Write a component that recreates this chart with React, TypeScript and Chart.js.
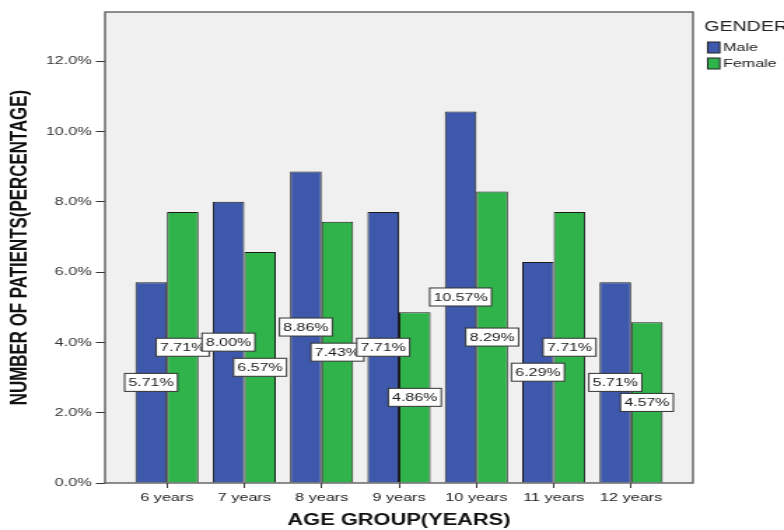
import { useEffect, useRef } from 'react';
import Chart from 'chart.js/auto';
import type { Plugin } from 'chart.js';

// source image is horizontally stretched, so draw narrow and widen with CSS
const PAGE_W = 784;
const PAGE_H = 530;
const STRETCH = 1.4;
const CANVAS_W = Math.round(PAGE_W / STRETCH);

const categories = ['6 years', '7 years', '8 years', '9 years', '10 years', '11 years', '12 years'];
const maleValues = [5.71, 8.0, 8.86, 7.71, 10.57, 6.29, 5.71];
const femaleValues = [7.71, 6.57, 7.43, 4.86, 8.29, 7.71, 4.57];
const seriesNames = ['Male', 'Female'];
const seriesColors = ['#3e58ab', '#2fb34a'];
const yTicks = [0, 2, 4, 6, 8, 10, 12];

const FONT = "'Liberation Sans', Arial, sans-serif";

const plotBackground: Plugin<'bar'> = {
    id: 'plotBackground',
    beforeDraw(chart) {
        const { ctx, chartArea: a } = chart;
        ctx.save();
        ctx.fillStyle = '#f0f0f0';
        ctx.fillRect(a.left, a.top, a.right - a.left, a.bottom - a.top);
        ctx.restore();
    },
    afterDraw(chart) {
        const { ctx, chartArea: a } = chart;
        ctx.save();
        ctx.strokeStyle = '#444';
        ctx.lineWidth = 1.2;
        ctx.strokeRect(a.left, a.top, a.right - a.left, a.bottom - a.top);
        ctx.restore();
    }
};

// white boxed value labels at mid-height of each bar, drawn category by category
const valueLabels: Plugin<'bar'> = {
    id: 'valueLabels',
    afterDatasetsDraw(chart) {
        const { ctx } = chart;
        ctx.save();
        ctx.font = `11.4px ${FONT}`;
        ctx.textAlign = 'center';
        ctx.textBaseline = 'middle';
        categories.forEach((_, i) => {
            chart.data.datasets.forEach((ds, d) => {
                const el = chart.getDatasetMeta(d).data[i] as any;
                if (!el) return;
                const { x, y, base } = el.getProps(['x', 'y', 'base'], true);
                const v = (ds.data[i] as any).y as number;
                const text = v.toFixed(2) + '%';
                const w = ctx.measureText(text).width + 5.5;
                const h = 18;
                const cy = (y + base) / 2;
                ctx.fillStyle = '#ffffff';
                ctx.fillRect(x - w / 2, cy - h / 2, w, h);
                ctx.strokeStyle = '#333';
                ctx.lineWidth = 1;
                ctx.strokeRect(x - w / 2, cy - h / 2, w, h);
                ctx.fillStyle = '#1a1a1a';
                ctx.fillText(text, x, cy + 0.5);
            });
        });
        ctx.restore();
    }
};

const genderLegend: Plugin<'bar'> = {
    id: 'genderLegend',
    afterDraw(chart) {
        const { ctx } = chart;
        ctx.save();
        ctx.textBaseline = 'middle';
        ctx.textAlign = 'left';
        ctx.fillStyle = '#222';
        ctx.font = `14px ${FONT}`;
        ctx.fillText('GENDER', 503, 27);
        ctx.font = `11.5px ${FONT}`;
        chart.data.datasets.forEach((ds, d) => {
            const top = 42 + d * 16;
            ctx.fillStyle = ds.backgroundColor as string;
            ctx.fillRect(505.5, top, 8.6, 11);
            ctx.strokeStyle = '#222';
            ctx.lineWidth = 1;
            ctx.strokeRect(505.5, top, 8.6, 11);
            ctx.fillStyle = '#222';
            ctx.fillText(ds.label as string, 516.4, top + 6);
        });
        ctx.restore();
    }
};

export default function App() {
    const canvasRef = useRef<HTMLCanvasElement>(null);
    const chartRef = useRef<Chart | null>(null);

    useEffect(() => {
        document.body.style.margin = '0';
        if (!canvasRef.current) return;
        if (chartRef.current) chartRef.current.destroy();

        Chart.defaults.font.family = FONT;

        chartRef.current = new Chart(canvasRef.current, {
            type: 'bar',
            data: {
                datasets: [maleValues, femaleValues].map((values, d) => ({
                    label: seriesNames[d],
                    data: values.map((v, i) => ({ x: i, y: v })),
                    backgroundColor: seriesColors[d],
                    borderColor: '#1c1c1c',
                    borderWidth: 1,
                    categoryPercentage: 0.816,
                    barPercentage: 1.0
                }))
            },
            options: {
                responsive: false,
                devicePixelRatio: 1,
                animation: false,
                layout: {
                    padding: { top: 12, right: CANVAS_W - 495, bottom: 0, left: 0 }
                },
                plugins: {
                    legend: { display: false },
                    tooltip: { enabled: false }
                },
                scales: {
                    x: {
                        type: 'linear',
                        min: -0.8,
                        max: 6.8,
                        offset: false,
                        afterBuildTicks: (axis) => {
                            axis.ticks = categories.map((_, i) => ({ value: i }));
                        },
                        afterFit: (axis) => {
                            axis.height = 47;
                        },
                        ticks: {
                            autoSkip: false,
                            maxRotation: 0,
                            padding: 3,
                            color: '#222',
                            font: { size: 11.6 },
                            callback: (v) => categories[v as number] ?? ''
                        },
                        grid: {
                            offset: false,
                            drawOnChartArea: false,
                            drawTicks: true,
                            tickLength: 5,
                            color: '#333'
                        },
                        border: { display: false },
                        title: {
                            display: true,
                            text: 'AGE GROUP(YEARS)',
                            color: '#111',
                            font: { size: 15.6, weight: 'bold' },
                            padding: { top: 0, bottom: 0 }
                        }
                    },
                    y: {
                        min: 0,
                        max: 13.4,
                        afterBuildTicks: (axis) => {
                            axis.ticks = yTicks.map((v) => ({ value: v }));
                        },
                        afterFit: (axis) => {
                            axis.width = 75;
                        },
                        ticks: {
                            padding: 3,
                            color: '#333',
                            font: { size: 11.6 },
                            callback: (v) => (v as number).toFixed(1) + '%'
                        },
                        grid: {
                            drawOnChartArea: false,
                            drawTicks: true,
                            tickLength: 6.5,
                            color: '#333'
                        },
                        border: { display: false },
                        title: {
                            display: true,
                            text: 'NUMBER OF PATIENTS(PERCENTAGE)',
                            color: '#111',
                            font: { size: 16.9, weight: 'bold' },
                            padding: { top: 4.2, bottom: 0 }
                        }
                    }
                }
            },
            plugins: [plotBackground, valueLabels, genderLegend]
        });

        return () => {
            if (chartRef.current) {
                chartRef.current.destroy();
                chartRef.current = null;
            }
        };
    }, []);

    return (
        <div style={{ width: PAGE_W, height: PAGE_H, overflow: 'hidden', background: '#fff' }}>
            <canvas
                ref={canvasRef}
                width={CANVAS_W}
                height={PAGE_H}
                style={{ width: `${PAGE_W}px`, height: `${PAGE_H}px`, display: 'block' }}
            />
        </div>
    );
}
